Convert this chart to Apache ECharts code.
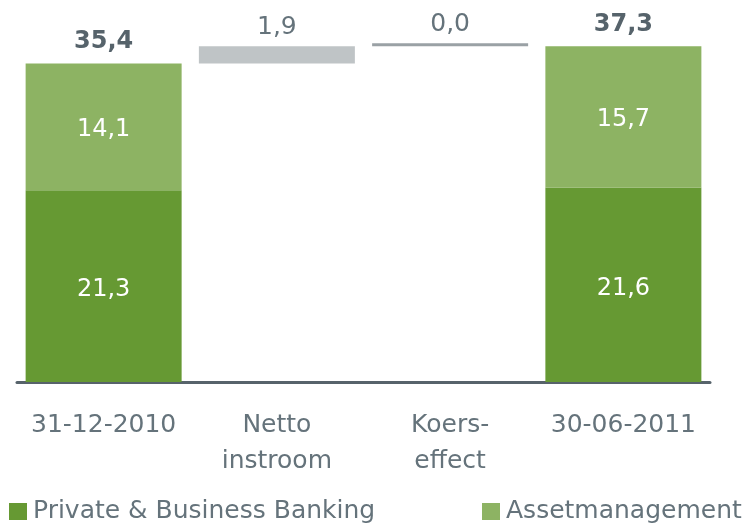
<!DOCTYPE html>
<html>
<head>
<meta charset="utf-8">
<title>Waterfall</title>
<script src="https://cdn.jsdelivr.net/npm/echarts@6/dist/echarts.min.js"></script>
<style>
  html, body { margin: 0; padding: 0; background: #fff; }
  #chart { width: 745px; height: 523px; }
</style>
</head>
<body>
<div id="chart"></div>
<script>
// data
var categories = ['31-12-2010', 'Netto\ninstroom', 'Koers-\neffect', '30-06-2011'];
var baseValues = [0, 35.4, 37.3, 0];
var privateBanking = [21.3, '-', '-', 21.6];
var assetManagement = [14.1, '-', '-', 15.7];
var changes = ['-', 1.9, 0.0, '-'];
var totals = [35.4, null, null, 37.3];

function comma(v) {
    return Number(v).toFixed(1).replace('.', ',');
}

var textColor = '#65737b';
var fontName = '"DejaVu Sans", Verdana, sans-serif';

var myChart = echarts.init(document.getElementById('chart'));
var option = {
    animation: false,
    grid: { left: 17, right: 35, top: 22, bottom: 141 },
    legend: [
        {
            data: ['Private & Business Banking'],
            left: 9, top: 499, padding: 0,
            itemWidth: 18, itemHeight: 17, icon: 'rect',
            textStyle: { fontSize: 25, color: textColor, fontFamily: fontName, padding: [0, 0, 0, 1] }
        },
        {
            data: ['Assetmanagement'],
            left: 482, top: 499, padding: 0,
            itemWidth: 18, itemHeight: 17, icon: 'rect',
            textStyle: { fontSize: 25, color: textColor, fontFamily: fontName, padding: [0, 0, 0, 1] }
        }
    ],
    xAxis: {
        type: 'category',
        data: categories,
        axisLine: { lineStyle: { color: '#57636b', width: 3, cap: 'round' } },
        axisTick: { show: false },
        axisLabel: {
            fontSize: 25, lineHeight: 36, color: textColor, fontFamily: fontName,
            margin: 25, interval: 0
        }
    },
    yAxis: {
        type: 'value', min: 0, max: 40,
        show: false,
        splitLine: { show: false }
    },
    series: [
        {
            name: 'base',
            type: 'bar', stack: 'w', barWidth: 156,
            itemStyle: { color: 'transparent' },
            data: baseValues
        },
        {
            name: 'Private & Business Banking',
            type: 'bar', stack: 'w', barWidth: 156,
            itemStyle: { color: '#669933' },
            label: {
                show: true, position: 'inside', offset: [0, 4], color: '#fff', fontSize: 24, fontFamily: fontName,
                formatter: function (p) { return comma(p.value); }
            },
            data: privateBanking
        },
        {
            name: 'Assetmanagement',
            type: 'bar', stack: 'w', barWidth: 156,
            itemStyle: { color: '#8db363' },
            label: {
                show: true, position: 'inside', offset: [0, 3], color: '#fff', fontSize: 24, fontFamily: fontName,
                formatter: function (p) { return comma(p.value); }
            },
            data: assetManagement
        },
        {
            name: 'verandering',
            type: 'bar', stack: 'w', barWidth: 156, barMinHeight: 3,
            itemStyle: { color: '#bfc4c6' },
            label: {
                show: true, position: 'top', distance: 6, color: textColor, fontSize: 25, fontFamily: fontName,
                formatter: function (p) { return comma(p.value); }
            },
            data: changes.map(function (v) {
                if (v === 0) return { value: v, itemStyle: { color: '#9aa1a5' } };
                return v;
            })
        },
        {
            name: 'totaal',
            type: 'bar', stack: 'w', barWidth: 156,
            itemStyle: { color: 'transparent' },
            label: {
                show: true, position: 'top', distance: 10, color: '#56636b', fontSize: 24,
                fontWeight: 'bold', fontFamily: fontName,
                formatter: function (p) { return totals[p.dataIndex] == null ? '' : comma(totals[p.dataIndex]); }
            },
            data: totals.map(function (t) { return t == null ? '-' : 0; })
        }
    ]
};
myChart.setOption(option);
</script>
</body>
</html>
